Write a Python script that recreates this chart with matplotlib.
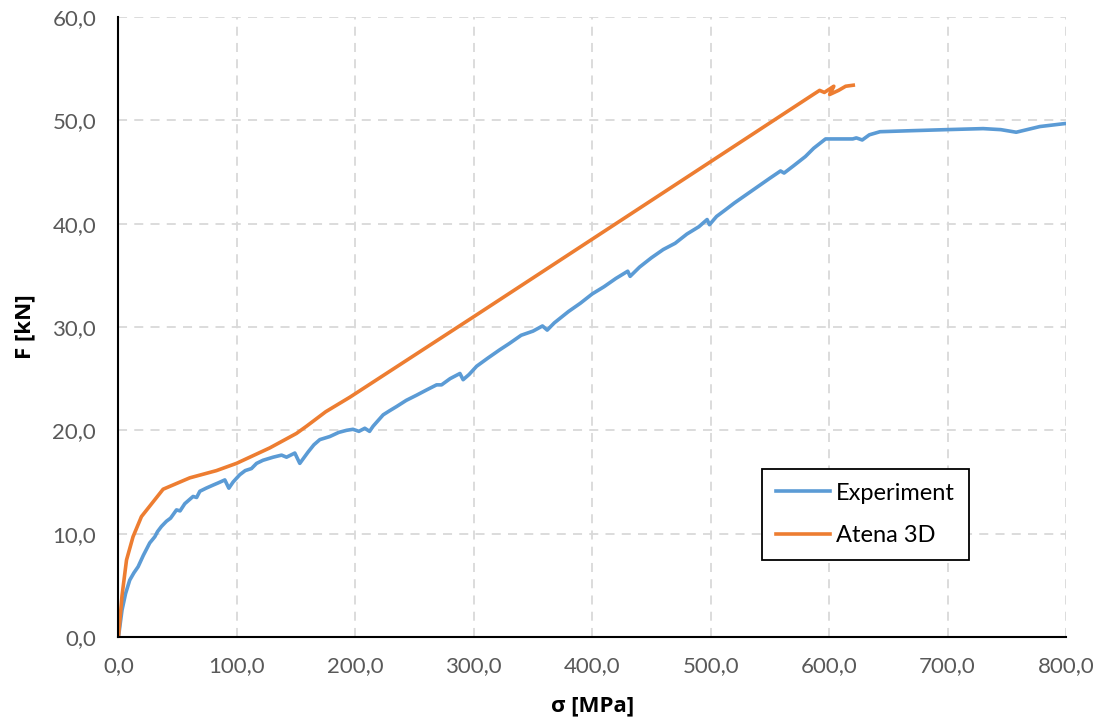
import numpy as np
import matplotlib.pyplot as plt
from matplotlib.ticker import FuncFormatter, MultipleLocator

# stress [MPa] vs force [kN]
exp_sigma = [0, 3, 6, 9.5, 13, 16.6, 21, 26.4, 30.7, 33, 36.3, 40.5, 44, 49, 52, 56, 63, 66,
             68.7, 74, 79.9, 84, 89.8, 93.2, 96.8, 102.4, 107, 112.3, 116.6, 122, 130.6,
             137.7, 141.9, 148.9, 153.1, 160.1, 165, 170, 178.5, 186, 192.6, 198, 203,
             208, 212, 215, 223.5, 229, 234.8, 243, 251.7, 260, 268.6, 272.8, 280, 288.3,
             291, 296, 302.4, 312, 322, 330, 340, 350, 358, 362, 368, 380, 390, 400, 410,
             420, 430, 432, 440, 450, 460, 470, 480, 490, 497, 499, 505, 512, 520, 530,
             540, 550, 559, 562, 570, 580, 587, 597, 610, 620, 623, 628, 634, 643, 670,
             699, 730, 745, 758, 778, 800]
exp_force = [0, 2.6, 4.2, 5.5, 6.2, 6.8, 7.9, 9.1, 9.7, 10.2, 10.7, 11.2, 11.5, 12.3, 12.2,
             12.9, 13.6, 13.5, 14.1, 14.4, 14.7, 14.9, 15.2, 14.4, 15.0, 15.7, 16.1, 16.3,
             16.8, 17.1, 17.4, 17.6, 17.4, 17.8, 16.8, 17.9, 18.6, 19.1, 19.4, 19.8, 20.0,
             20.1, 19.9, 20.2, 19.9, 20.4, 21.5, 21.9, 22.3, 22.9, 23.4, 23.9, 24.4, 24.4,
             25.0, 25.5, 24.9, 25.4, 26.2, 27.0, 27.8, 28.4, 29.2, 29.6, 30.1, 29.7, 30.4,
             31.5, 32.3, 33.2, 33.9, 34.7, 35.4, 34.9, 35.8, 36.7, 37.5, 38.1, 39.0, 39.7,
             40.4, 39.9, 40.7, 41.3, 42.0, 42.8, 43.6, 44.4, 45.1, 44.9, 45.6, 46.5, 47.3,
             48.2, 48.2, 48.2, 48.3, 48.1, 48.6, 48.9, 49.0, 49.1, 49.2, 49.1, 48.85, 49.4,
             49.7]

sim_sigma = [0, 3, 6.8, 12.3, 19.4, 37.7, 60.2, 82.7, 99.6, 127.8, 150.3, 158.8, 175,
             195.3, 300, 400, 500, 586.6, 592, 596, 600, 604, 600.5, 608, 614, 620.4]
sim_force = [0, 4.0, 7.45, 9.7, 11.65, 14.3, 15.4, 16.1, 16.8, 18.3, 19.7, 20.4, 21.8,
             23.2, 31.0, 38.5, 46.0, 52.5, 52.9, 52.7, 53.0, 53.3, 52.5, 52.9, 53.3, 53.4]

plt.rcParams['font.family'] = ['Lato', 'DejaVu Sans']
label_font = dict(family=['Open Sans', 'DejaVu Sans'], fontsize=16, fontweight='bold')

fig = plt.figure(figsize=(11.02, 7.24), dpi=100)
ax = fig.add_axes([0.1075, 0.1202, 0.8598, 0.8563])

ax.plot(exp_sigma, exp_force, color='#5B9BD5', lw=2.6, label='Experiment',
        solid_joinstyle='round')
ax.plot(sim_sigma, sim_force, color='#ED7D31', lw=2.6, label='Atena 3D',
        solid_joinstyle='round')

ax.set_xlim(0, 800)
ax.set_ylim(0, 60)
ax.xaxis.set_major_locator(MultipleLocator(100))
ax.yaxis.set_major_locator(MultipleLocator(10))
fmt = FuncFormatter(lambda v, p: f"{v:.1f}".replace('.', ','))
ax.xaxis.set_major_formatter(fmt)
ax.yaxis.set_major_formatter(fmt)

ax.grid(True, color='#D9D9D9', ls=(0, (5, 4)), lw=1.3)
ax.set_axisbelow(True)
for s in ['top', 'right']:
    ax.spines[s].set_visible(False)
for s in ['left', 'bottom']:
    ax.spines[s].set_linewidth(1.5)
    ax.spines[s].set_color('black')

ax.tick_params(length=0, labelsize=16, labelcolor='#595959')
ax.tick_params(axis='x', pad=14)
ax.tick_params(axis='y', pad=16)
ax.set_xlabel('σ [MPa]', labelpad=14, **label_font)
ax.set_ylabel('F [kN]', labelpad=12, **label_font)

leg = ax.legend(loc='lower left', bbox_to_anchor=(0.679, 0.124), fontsize=17,
                handlelength=2.3, handletextpad=0.25, labelspacing=0.9,
                borderpad=0.6, borderaxespad=0,
                fancybox=False, framealpha=1, edgecolor='black')
leg.get_frame().set_linewidth(1.3)

fig.savefig('out.png', dpi=100)
